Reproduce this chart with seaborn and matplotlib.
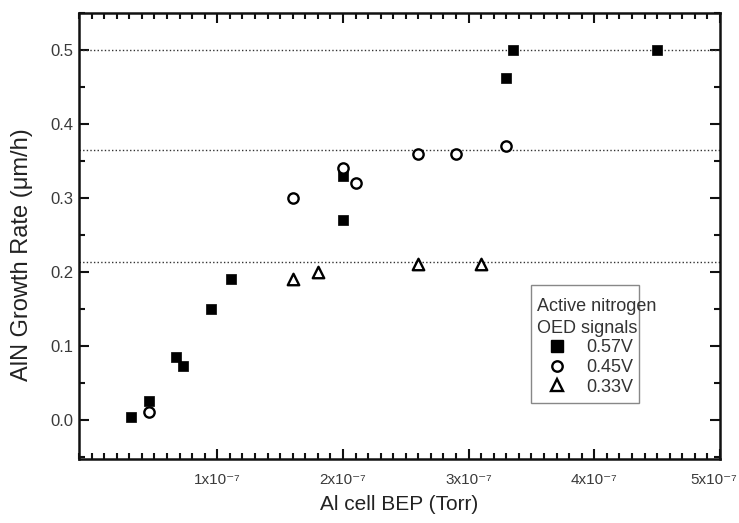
import numpy as np
import pandas as pd
import matplotlib
matplotlib.use("Agg")
import matplotlib.pyplot as plt
from matplotlib.ticker import MultipleLocator, FixedLocator, FixedFormatter, FormatStrFormatter
from matplotlib.lines import Line2D
from matplotlib.patches import Rectangle
from matplotlib.transforms import ScaledTranslation
import seaborn as sns

# Data (x in units of 1e-7 Torr)
sq_x = [0.31, 0.46, 0.67, 0.73, 0.95, 1.11, 2.0, 2.0, 3.30, 3.35, 4.5]
sq_y = [0.004, 0.026, 0.085, 0.073, 0.15, 0.19, 0.33, 0.27, 0.462, 0.50, 0.50]
ci_x = [0.46, 1.60, 2.0, 2.1, 2.6, 2.9, 3.3]
ci_y = [0.011, 0.30, 0.34, 0.32, 0.36, 0.36, 0.37]
tr_x = [1.6, 1.8, 2.6, 3.1]
tr_y = [0.19, 0.20, 0.21, 0.21]
ref_levels = [0.5, 0.365, 0.213]
series_labels = ["0.57V", "0.45V", "0.33V"]
legend_title = "Active nitrogen\nOED signals"
xtick_vals = [1, 2, 3, 4, 5]
xtick_labels = ["1x10\u207b\u2077", "2x10\u207b\u2077", "3x10\u207b\u2077", "4x10\u207b\u2077", "5x10\u207b\u2077"]

sns.set_theme(style="ticks")
plt.rcParams["font.family"] = ["Liberation Sans", "DejaVu Sans"]

W, H = 739, 523
L, R, T, B = 79, 720, 13, 459
fig = plt.figure(figsize=(W/100, H/100), dpi=100)
ax = fig.add_axes([L/W, 1-B/H, (R-L)/W, (B-T)/H])

df_sq = pd.DataFrame({"x": sq_x, "y": sq_y})
df_ci = pd.DataFrame({"x": ci_x, "y": ci_y})
df_tr = pd.DataFrame({"x": tr_x, "y": tr_y})

for lv in ref_levels:
    ax.axhline(lv, color="#333333", ls=(0, (1, 1.6)), lw=1.0, zorder=1)

sns.scatterplot(data=df_sq, x="x", y="y", ax=ax, marker="s", s=62,
                color="black", edgecolor="black", linewidth=0.5, zorder=3)
sns.scatterplot(data=df_ci, x="x", y="y", ax=ax, marker="o", s=55,
                facecolor="white", edgecolor="black", linewidth=1.7, zorder=3)
sns.scatterplot(data=df_tr, x="x", y="y", ax=ax, marker="^", s=68,
                facecolor="white", edgecolor="black", linewidth=1.7, zorder=3)

ax.set_xlim(-0.1, 5.0)
ax.set_ylim(-0.053, 0.55)

ax.xaxis.set_major_locator(FixedLocator(xtick_vals))
ax.xaxis.set_major_formatter(FixedFormatter(xtick_labels))
ax.xaxis.set_minor_locator(MultipleLocator(0.1))
ax.yaxis.set_major_locator(MultipleLocator(0.1))
ax.yaxis.set_minor_locator(MultipleLocator(0.05))
ax.yaxis.set_major_formatter(FormatStrFormatter("%.1f"))

ax.tick_params(which="both", direction="in", top=True, right=True, color="#111111", width=1.5)
ax.tick_params(which="major", length=7, labelcolor="#3a3a3a")
ax.tick_params(axis="y", which="major", pad=4, labelsize=12)
ax.tick_params(axis="x", which="major", pad=10, labelsize=11)
ax.tick_params(which="minor", length=4)
for sp in ax.spines.values():
    sp.set_linewidth(1.8)
    sp.set_color("#111111")

ax.set_xlabel("Al cell BEP (Torr)", fontsize=15, color="#222222")
ax.xaxis.set_label_coords((399-L)/(R-L), -(505-B)/(B-T))
ax.xaxis.label.set_va("center")
ax.set_ylabel("AlN Growth Rate (\u03bcm/h)", fontsize=17, color="#222222")
ax.yaxis.set_label_coords((22-L)/(R-L), (B-255)/(B-T))
ax.yaxis.label.set_va("center")

# keep the last x tick label inside the canvas
fig.canvas.draw()
last = ax.get_xticklabels()[-1]
last.set_transform(last.get_transform() + ScaledTranslation(-6/100, 0, fig.dpi_scale_trans))

# Legend box (title overflows the frame as in the original)
bx0, bx1, by0, by1 = 531, 639, 285, 403
ax.add_patch(Rectangle(((bx0-L)/(R-L), (B-by1)/(B-T)), (bx1-bx0)/(R-L), (by1-by0)/(B-T),
                       transform=ax.transAxes, fill=False, edgecolor="#888888", lw=1.0, zorder=4))
handles = [
    Line2D([], [], ls="none", marker="s", ms=8.5, mfc="black", mec="black"),
    Line2D([], [], ls="none", marker="o", ms=7.5, mfc="white", mec="black", mew=1.7),
    Line2D([], [], ls="none", marker="^", ms=8.5, mfc="white", mec="black", mew=1.7),
]
leg = ax.legend(handles, series_labels, title=legend_title,
                loc="upper left", bbox_to_anchor=((537-L)/(R-L), (B-298)/(B-T)),
                borderaxespad=0, borderpad=0, frameon=False,
                fontsize=13, title_fontsize=13, handlelength=2.2,
                handletextpad=0.55, labelspacing=0.15, alignment="left")
for t in leg.get_texts():
    t.set_color("#333333")
leg.get_title().set_color("#333333")
leg.get_title().set_linespacing(1.35)

fig.savefig("out.png", dpi=100)
